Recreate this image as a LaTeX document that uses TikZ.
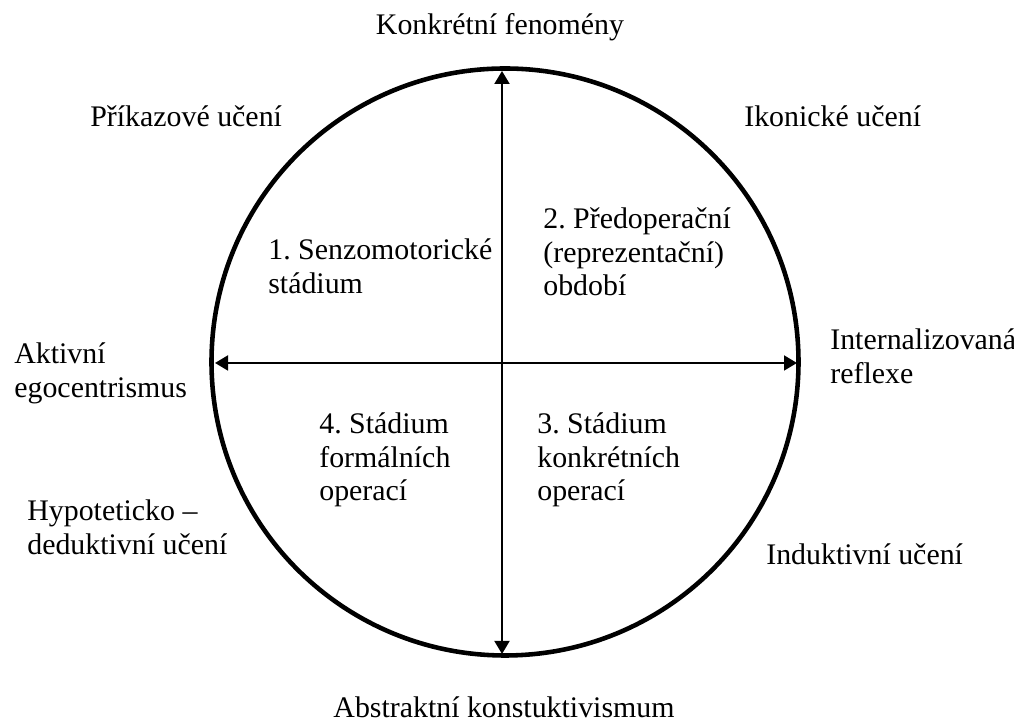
\documentclass[tikz,border=0pt]{standalone}
\usepackage{fontspec}
\setmainfont{Liberation Serif}
\frenchspacing
\usetikzlibrary{arrows.meta}

\tikzset{
    label/.style={inner sep=0pt, align=left, anchor=base west,
        font=\fontsize{17pt}{19.07pt}\selectfont},
    axis/.style={line width=1.2pt, {Triangle[length=7.4pt,width=8.5pt]}-{Triangle[length=7.4pt,width=8.5pt]}}
}

\begin{document}
\begin{tikzpicture}
    \useasboundingbox (0,0) rectangle (20.28,14.44);

    % Circle
    \draw[line width=2.6pt] (10.10,7.20) circle (5.87);

    % Axes
    \coordinate (top) at (10.04,13.02);
    \coordinate (bottom) at (10.04,1.36);
    \coordinate (left) at (4.30,7.18);
    \coordinate (right) at (15.94,7.18);
    \draw[axis] (bottom) -- (top);
    \draw[axis] (left) -- (right);

    % Poles (base = last line)
    \node[label, anchor=base] (konkretni) at (10.0,13.74) {Konkrétní fenomény};
    \node[label, anchor=base] (abstraktni) at (10.08,0.08) {Abstraktní konstuktivismum};
    \node[label] (aktivni) at (0.28,6.49) {Aktivní\\egocentrismus};
    \node[label] (internal) at (16.60,6.77) {Internalizovaná\\reflexe};

    % Learning types
    \node[label] (prikazove) at (1.80,11.90) {Příkazové učení};
    \node[label] (ikonicke) at (14.88,11.90) {Ikonické učení};
    \node[label] (hypoteticko) at (0.54,3.35) {Hypoteticko –\\deduktivní učení};
    \node[label] (induktivni) at (15.32,3.14) {Induktivní učení};

    % Stages
    \node[label] (stage1) at (5.36,8.57) {1. Senzomotorické\\stádium};
    \node[label] (stage2) at (10.86,8.52) {2. Předoperační\\(reprezentační)\\období};
    \node[label] (stage3) at (10.74,4.42) {3. Stádium\\konkrétních\\operací};
    \node[label] (stage4) at (6.38,4.42) {4. Stádium\\formálních\\operací};
\end{tikzpicture}
\end{document}
